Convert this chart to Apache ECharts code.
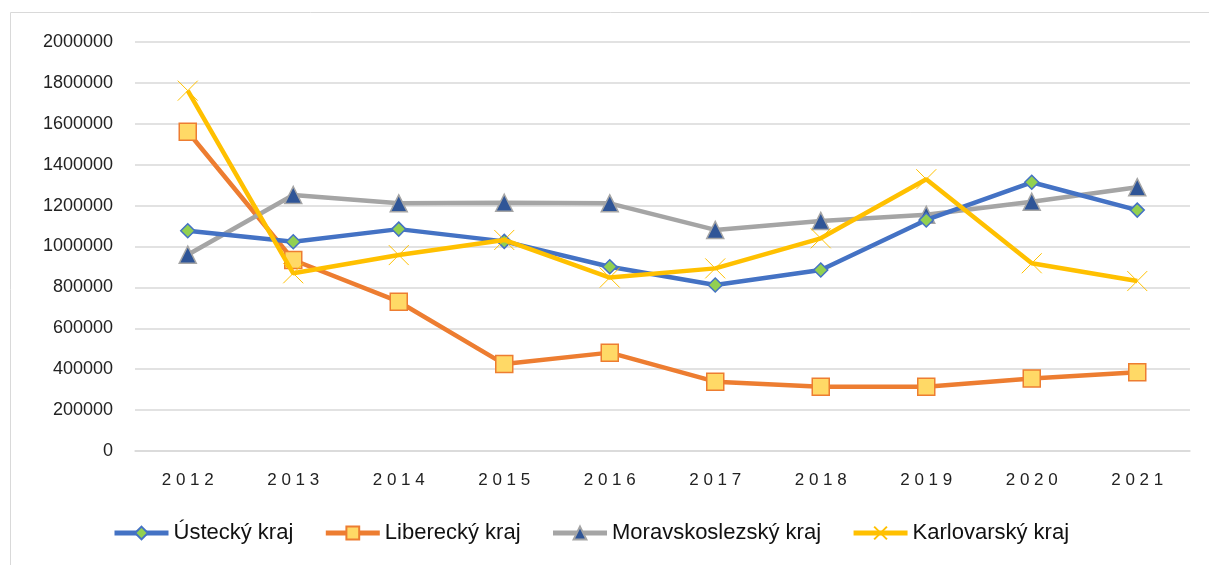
<!DOCTYPE html>
<html lang="cs">
<head>
    <meta charset="UTF-8">
    <title>Kraje 2012-2021</title>
    <script src="https://cdn.jsdelivr.net/npm/echarts@6/dist/echarts.min.js"></script>
    <style>
        html, body { margin: 0; padding: 0; background: #fff; }
        #chart { width: 1209px; height: 565px; }
    </style>
</head>
<body>
<div id="chart"></div>
<script>
    var years = ['2012', '2013', '2014', '2015', '2016', '2017', '2018', '2019', '2020', '2021'];
    var yTicks = [0, 200000, 400000, 600000, 800000, 1000000, 1200000, 1400000, 1600000, 1800000, 2000000];

    var ustecky = [1077000, 1023000, 1085000, 1025000, 901000, 812000, 885000, 1130000, 1314000, 1178000];
    var liberecky = [1561000, 934000, 730000, 425000, 481000, 339000, 314000, 314000, 355000, 385000];
    var moravskoslezsky = [960000, 1252000, 1211000, 1214000, 1211000, 1081000, 1125000, 1155000, 1219000, 1290000];
    var karlovarsky = [1762000, 869000, 958000, 1032000, 848000, 893000, 1040000, 1329000, 918000, 831000];

    var font = 'Liberation Sans';
    var xMark = 'path://M0,0L10,10M10,0L0,10';

    var chart = echarts.init(document.getElementById('chart'));
    chart.setOption({
        animation: false,
        textStyle: { fontFamily: font },
        graphic: [{
            type: 'rect',
            shape: { x: 10.5, y: 12.5, width: 1300, height: 700 },
            style: { fill: 'none', stroke: '#d9d9d9', lineWidth: 1 },
            silent: true
        }],
        grid: { left: 135, right: 19, top: 42, bottom: 114 },
        xAxis: {
            type: 'category',
            data: years,
            boundaryGap: true,
            axisLine: { lineStyle: { color: '#d9d9d9', width: 1.5 } },
            axisTick: { show: false },
            axisLabel: {
                color: '#222',
                fontSize: 17,
                margin: 21,
                formatter: function (v) { return v.split('').join(' '); }
            }
        },
        yAxis: {
            type: 'value',
            min: yTicks[0],
            max: yTicks[yTicks.length - 1],
            interval: yTicks[1] - yTicks[0],
            axisLine: { show: false },
            axisTick: { show: false },
            splitLine: { lineStyle: { color: '#d9d9d9', width: 1.5 } },
            axisLabel: {
                color: '#222',
                fontSize: 18,
                margin: 22,
                formatter: function (v) { return String(v); }
            }
        },
        legend: {
            bottom: 16,
            left: 107,
            itemWidth: 54,
            itemHeight: 16,
            itemGap: 30,
            lineStyle: { width: 5 },
            textStyle: { fontSize: 22, color: '#111', fontFamily: font },
            data: ['Ústecký kraj', 'Liberecký kraj', 'Moravskoslezský kraj', 'Karlovarský kraj']
        },
        series: [{
            name: 'Ústecký kraj',
            type: 'line',
            data: ustecky,
            symbol: 'diamond',
            symbolSize: 14,
            lineStyle: { color: '#4472C4', width: 4.5 },
            itemStyle: { color: '#92D050', borderColor: '#4472C4', borderWidth: 1.5 },
            z: 4
        }, {
            name: 'Liberecký kraj',
            type: 'line',
            data: liberecky,
            symbol: 'rect',
            symbolSize: 17,
            lineStyle: { color: '#ED7D31', width: 4.5 },
            itemStyle: { color: '#FFD966', borderColor: '#ED7D31', borderWidth: 1.5 },
            z: 2
        }, {
            name: 'Moravskoslezský kraj',
            type: 'line',
            data: moravskoslezsky,
            symbol: 'triangle',
            symbolSize: 17,
            lineStyle: { color: '#A5A5A5', width: 4.5 },
            itemStyle: { color: '#2F5597', borderColor: '#A5A5A5', borderWidth: 1.5 },
            z: 3
        }, {
            name: 'Karlovarský kraj',
            type: 'line',
            data: karlovarsky,
            symbol: xMark,
            symbolSize: 20,
            lineStyle: { color: '#FFC000', width: 4.5 },
            itemStyle: { color: '#FFC000', borderColor: '#FFC000', borderWidth: 1 },
            z: 5
        }]
    });
</script>
</body>
</html>
